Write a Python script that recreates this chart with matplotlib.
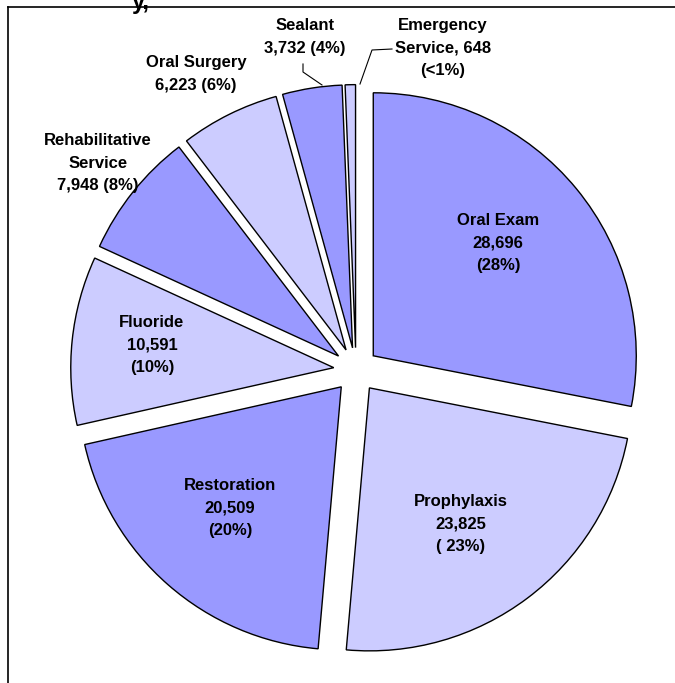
import matplotlib.pyplot as plt
from matplotlib.lines import Line2D

plt.rcParams['font.family'] = ['Liberation Sans', 'DejaVu Sans']

services = ["Oral Exam", "Prophylaxis", "Restoration", "Fluoride",
            "Rehabilitative\nService", "Oral Surgery", "Sealant", "Emergency\nService"]
counts = [28696, 23825, 20509, 10591, 7948, 6223, 3732, 648]
pct_text = ["(28%)", "( 23%)", "(20%)", "(10%)", "(8%)", "(6%)", "(4%)", "(<1%)"]
colors = ["#9999FF", "#CCCCFF", "#9999FF", "#CCCCFF",
          "#9999FF", "#CCCCFF", "#9999FF", "#CCCCFF"]

W, H = 675, 683
CX, CY, R = 356, 370, 263


def px(x, y):
    # image pixel -> data coords
    return (x - CX) / R, (CY - y) / R


fig = plt.figure(figsize=(W / 100, H / 100), dpi=100)
ax = fig.add_axes([0, 0, 1, 1])

ax.pie(counts, colors=colors, startangle=90, counterclock=False,
       explode=[0.085] * len(counts), radius=1,
       wedgeprops=dict(edgecolor="black", linewidth=1.0))

ax.set_aspect("auto")
ax.set_xlim(-CX / R, (W - CX) / R)
ax.set_ylim(-(H - CY) / R, CY / R)
ax.axis("off")

labels = [
    "Oral Exam\n28,696\n(28%)",
    "Prophylaxis\n23,825\n( 23%)",
    "Restoration\n20,509\n(20%)",
    "Fluoride\n10,591\n(10%)",
    "Rehabilitative\nService\n7,948 (8%)",
    "Oral Surgery\n6,223 (6%)",
    "Sealant\n3,732 (4%)",
    "Emergency\nService, 648\n(<1%)",
]
label_pos = [(498, 243), (461, 524), (230, 508), (152, 345),
             (98, 163), (196, 74), (305, 37), (443, 48)]

for txt, (x, y) in zip(labels, label_pos):
    ax.text(*px(x, y), txt, ha="center", va="center", fontsize=12,
            fontweight="bold", linespacing=1.6)

# leader lines for the two small slices
for pts in [[(303, 64), (303, 72), (322, 85)],
            [(392, 49), (372, 50), (360, 84)]]:
    xs, ys = zip(*[px(x, y) for x, y in pts])
    ax.plot(xs, ys, color="black", linewidth=0.8)

# frame and clipped title
fig.add_artist(Line2D([7.5 / W, 7.5 / W], [0, 1 - 6.5 / H], color="black", linewidth=1.2))
fig.add_artist(Line2D([7.5 / W, 1], [1 - 6.5 / H, 1 - 6.5 / H], color="black", linewidth=1.2))
fig.text(132 / W, 1 - 9 / H, "y,", ha="left", va="baseline", fontsize=17, fontweight="bold")

fig.savefig("out.png", dpi=100, facecolor="white")
